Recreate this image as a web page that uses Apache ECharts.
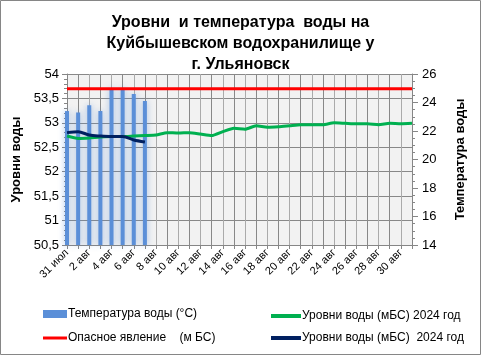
<!DOCTYPE html>
<html>
<head>
<meta charset="utf-8">
<script src="https://cdn.jsdelivr.net/npm/echarts@6/dist/echarts.min.js"></script>
<style>
  html, body { margin: 0; padding: 0; background: #fff; }
  #chart { width: 481px; height: 355px; }
</style>
</head>
<body>
<div id="chart"></div>
<script>
// categories: 31 июл .. 31 авг
const days = ['31 июл'];
for (let d = 1; d <= 31; d++) days.push(d + ' авг');

// температура воды, °С (правая ось)
const tempValues = [23.4, 23.3, 23.8, 23.4, 25.0, 25.0, 24.6, 24.1];
// опасное явление, м БС
const dangerLevel = new Array(32).fill(53.7);
// уровни воды 2024 (зелёная линия)
const levelGreen = [52.73, 52.68, 52.69, 52.71, 52.72, 52.72, 52.73, 52.74, 52.75, 52.80,
  52.79, 52.80, 52.77, 52.74, 52.82, 52.89, 52.87, 52.94, 52.91, 52.92,
  52.94, 52.96, 52.96, 52.96, 53.00, 52.99, 52.98, 52.98, 52.96, 52.99,
  52.98, 52.99];
// уровни воды 2024 (тёмно-синяя линия)
const levelNavy = [52.80, 52.82, 52.75, 52.73, 52.72, 52.72, 52.65, 52.61];

const FONT = 'Liberation Sans, Arial, sans-serif';
const chart = echarts.init(document.getElementById('chart'));

const legendItem = (name, left, top, w, h) => ({
  data: [{ name: name, icon: 'rect' }],
  left: left, top: top, itemWidth: w, itemHeight: h, itemGap: 0,
  selectedMode: false,
  textStyle: { fontFamily: FONT, fontSize: 12, color: '#000', padding: [0, 0, 0, -4] }
});

chart.setOption({
  backgroundColor: '#fff',
  animation: false,
  title: {
    text: 'Уровни  и температура  воды на\nКуйбышевском водохранилище у\nг. Ульяновск',
    left: 'center', top: 7,
    textStyle: { fontFamily: FONT, fontSize: 16, fontWeight: 'bold', color: '#000', lineHeight: 21 }
  },
  graphic: [{
    type: 'rect', shape: { x: 0.5, y: 0.5, width: 480, height: 354 },
    style: { fill: 'none', stroke: '#868686', lineWidth: 1 }, silent: true
  }],
  legend: [
    legendItem('Температура воды (°С)', 38, 303, 24, 8),
    legendItem('Опасное явление    (м БС)', 38, 327, 24, 3),
    legendItem('Уровни воды (мБС) 2024 год', 266, 305, 30, 4),
    legendItem('Уровни воды (мБС)  2024 год', 266, 327, 30, 4)
  ],
  grid: {
    left: 67, right: 69, top: 74, bottom: 110,
    show: true, backgroundColor: '#f2f2f2', borderWidth: 0
  },
  xAxis: {
    type: 'category', data: days, boundaryGap: false,
    axisLine: { lineStyle: { color: '#868686' } },
    axisTick: { show: true, interval: 0, length: 4, lineStyle: { color: '#868686' } },
    axisLabel: { interval: 1, rotate: 45, fontFamily: FONT, fontSize: 11, color: '#000', margin: 6 },
    splitLine: { show: true, interval: 0, lineStyle: { color: ['#aaaaaa', '#888888'], width: 1 } }
  },
  yAxis: [{
    type: 'value', min: 50.5, max: 54, interval: 0.5,
    name: 'Уровни воды', nameLocation: 'middle', nameGap: 44, nameRotate: 90,
    nameTextStyle: { fontFamily: FONT, fontSize: 13, fontWeight: 'bold', color: '#000' },
    axisLine: { show: true, lineStyle: { color: '#868686' } },
    axisTick: { show: true, length: 5, lineStyle: { color: '#868686' } },
    minorTick: { show: true, splitNumber: 5, length: 3, lineStyle: { color: '#868686' } },
    axisLabel: {
      fontFamily: FONT, fontSize: 13, color: '#000', margin: 8,
      formatter: v => String(v).replace('.', ',')
    },
    splitLine: { show: true, lineStyle: { color: '#888888' } }
  }, {
    type: 'value', min: 14, max: 26, interval: 2,
    name: 'Температура воды', nameLocation: 'middle', nameGap: 42, nameRotate: 90,
    nameTextStyle: { fontFamily: FONT, fontSize: 13, fontWeight: 'bold', color: '#000' },
    axisLine: { show: true, lineStyle: { color: '#868686' } },
    axisTick: { show: true, length: 6, lineStyle: { color: '#868686' } },
    minorTick: { show: true, splitNumber: 4, length: 3, lineStyle: { color: '#868686' } },
    axisLabel: { fontFamily: FONT, fontSize: 13, color: '#000', margin: 10 },
    splitLine: { show: false }
  }],
  series: [{
    name: 'Температура воды (°С)', type: 'bar', yAxisIndex: 1,
    data: tempValues, barWidth: 4,
    itemStyle: { color: '#5b8fd8', shadowColor: 'rgba(91,143,216,0.55)', shadowBlur: 6 }
  }, {
    name: 'Опасное явление    (м БС)', type: 'line', data: dangerLevel,
    symbol: 'none', lineStyle: { color: '#ff0000', width: 3 }, itemStyle: { color: '#ff0000' }
  }, {
    name: 'Уровни воды (мБС) 2024 год', type: 'line', data: levelGreen,
    symbol: 'none', smooth: 0.2, lineStyle: { color: '#00b050', width: 3 }, itemStyle: { color: '#00b050' }
  }, {
    name: 'Уровни воды (мБС)  2024 год', type: 'line', data: levelNavy,
    symbol: 'none', smooth: 0.3, lineStyle: { color: '#002060', width: 3 }, itemStyle: { color: '#002060' }
  }]
});
</script>
</body>
</html>
